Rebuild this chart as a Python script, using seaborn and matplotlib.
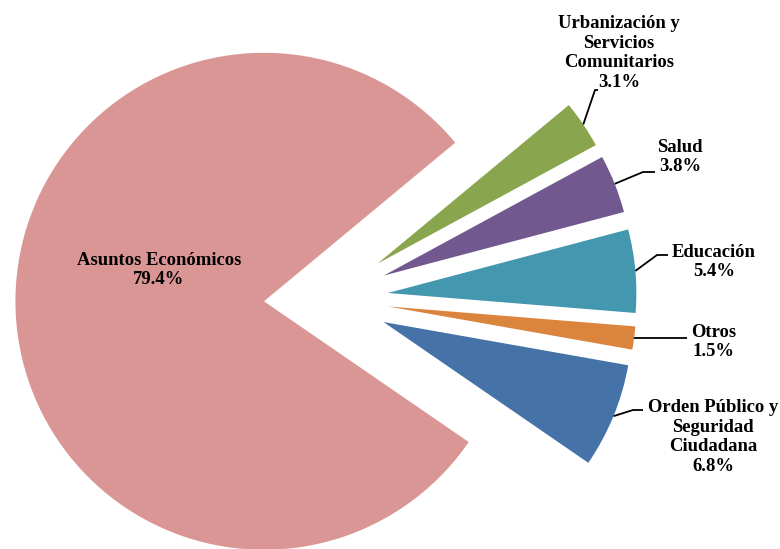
import matplotlib
matplotlib.use('Agg')
import matplotlib.pyplot as plt
import numpy as np
import seaborn as sns

# data, counter-clockwise from the lower right
categories = ['Orden Público y\nSeguridad\nCiudadana', 'Otros', 'Educación', 'Salud',
              'Urbanización y\nServicios\nComunitarios', 'Asuntos Económicos']
shares = [6.8, 1.5, 5.4, 3.8, 3.1, 79.4]
colors = ['#4572A7', '#DB843D', '#4398AF', '#71588F', '#89A54E', '#D99694']

sns.set_theme(style='white')
plt.rcParams['font.family'] = ['Liberation Serif', 'DejaVu Serif']

W, H = 780, 549
CX, CY, R = 326, 298.5, 248.5   # pie centre and radius in pixels
EXPLODE = 0.25


def px(x, y):
    """pixel position (from top left) -> data coordinates"""
    return (x - CX) / R, (CY - y) / R


# label text centre, elbow of the leader line (None = straight), end x of the line
label_layout = [
    ((713, 437), (633, 410), 643),
    ((714, 342), None, 687),
    ((714, 262), (657, 255), 668),
    ((680, 157), (643, 172), 655),
    ((619, 53), (595, 90), 598),
]

fig = plt.figure(figsize=(W / 100, H / 100), dpi=100)
ax = fig.add_axes([0, 0, 1, 1])
wedges, _ = ax.pie(shares, colors=colors, startangle=-34.5,
                   explode=[EXPLODE] * len(shares), radius=1,
                   wedgeprops=dict(linewidth=0))
ax.set_xlim(px(0, 0)[0], px(W, 0)[0])
ax.set_ylim(px(0, H)[1], px(0, 0)[1])
ax.axis('off')

text_kw = dict(ha='center', va='center', fontsize=13.4, fontweight='bold',
               color='black', linespacing=1.22)

for wedge, cat, share, layout in zip(wedges[:-1], categories[:-1], shares[:-1], label_layout):
    (tx, ty), elbow, end_x = layout
    theta = np.deg2rad((wedge.theta1 + wedge.theta2) / 2)
    ax_, ay_ = (1 + EXPLODE) * np.cos(theta), (1 + EXPLODE) * np.sin(theta)
    if elbow is None:
        xs = [ax_, px(end_x, 0)[0]]
        ys = [ay_, ay_]
    else:
        ex, ey = px(*elbow)
        xs = [ax_, ex, px(end_x, 0)[0]]
        ys = [ay_, ey, ey]
    ax.plot(xs, ys, color='black', lw=1.3, solid_capstyle='butt')
    ax.text(*px(tx, ty), f'{cat}\n{share:.1f}%', **text_kw)

ax.text(*px(159, 270), f'{categories[-1]}\n{shares[-1]:.1f}%', **text_kw)

fig.savefig('out.png', dpi=100, facecolor='white')
